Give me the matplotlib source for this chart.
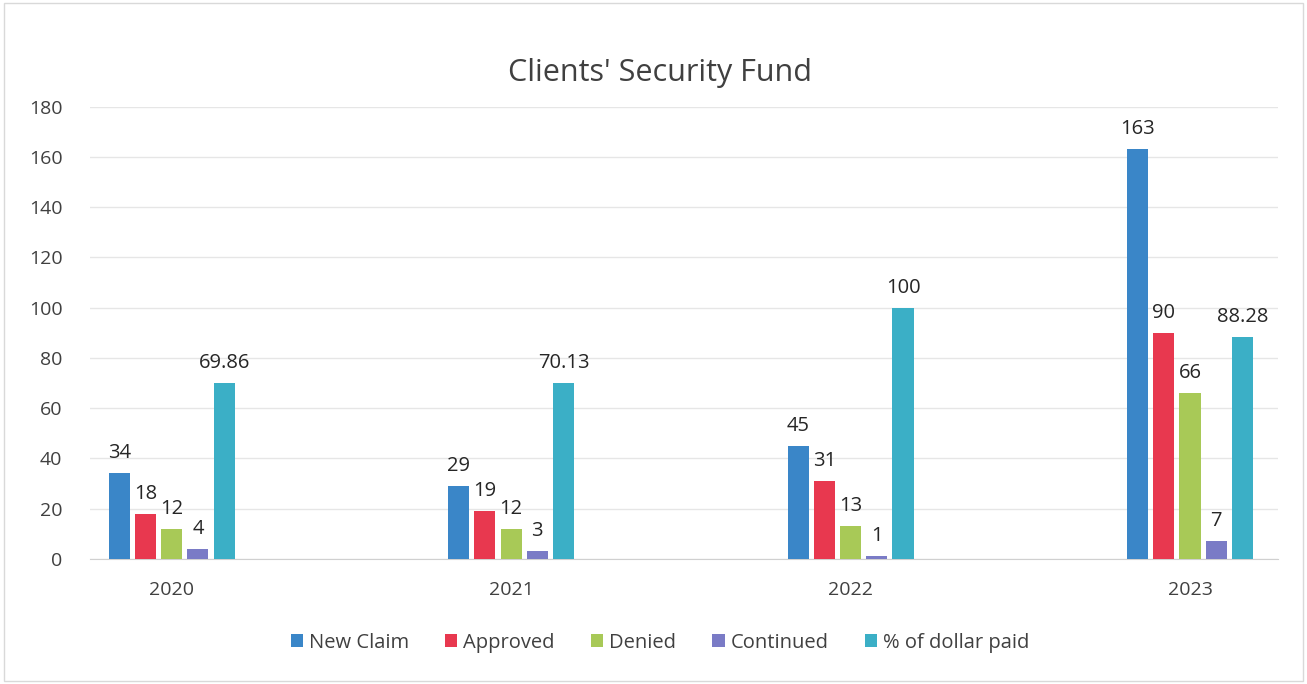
import matplotlib
matplotlib.use("Agg")
import matplotlib.pyplot as plt
import numpy as np

years = ["2020", "2021", "2022", "2023"]
series_names = ["New Claim", "Approved", "Denied", "Continued", "% of dollar paid"]
new_claim = [34, 29, 45, 163]
approved = [18, 19, 31, 90]
denied = [12, 12, 13, 66]
continued = [4, 3, 1, 7]
pct_paid = [69.86, 70.13, 100, 88.28]
pct_labels = ["69.86", "70.13", "100", "88.28"]
colors = ["#3A86C8", "#E8384F", "#A8C957", "#7A7BC6", "#3BAFC6"]
y_ticks = [0, 20, 40, 60, 80, 100, 120, 140, 160, 180]

plt.rcParams['font.family'] = ['Open Sans', 'DejaVu Sans']

fig = plt.figure(figsize=(13.07, 6.84), dpi=100)
ax = fig.add_axes([0.069, 0.183, 0.909, 0.661])

x = np.arange(len(years))
pitch = 0.0773
width = 0.062
all_series = [new_claim, approved, denied, continued, pct_paid]
for i, (vals, c, name) in enumerate(zip(all_series, colors, series_names)):
    pos = x + (i - 2) * pitch
    ax.bar(pos, vals, width=width, color=c, label=name, zorder=3)
    for j, (p, v) in enumerate(zip(pos, vals)):
        lab = pct_labels[j] if i == 4 else str(v)
        ax.text(p, v + 4, lab, ha="center", va="bottom", fontsize=14.5, color="#262626")

ax.set_xlim(-0.24, 3.26)
ax.set_ylim(0, 180)
ax.set_yticks(y_ticks)
ax.set_xticks(x)
ax.set_xticklabels(years)
ax.tick_params(axis="both", length=0, labelsize=14, colors="#404040")
ax.tick_params(axis="y", pad=20)
ax.tick_params(axis="x", pad=16)
ax.grid(axis="y", color="#E6E6E6", linewidth=1, zorder=0)
for s in ["top", "right", "left"]:
    ax.spines[s].set_visible(False)
ax.spines["bottom"].set_color("#D0D0D0")

fig.text(0.505, 0.893, "Clients' Security Fund", ha="center", va="center", fontsize=22, color="#404040")

leg = fig.legend(loc="center", bbox_to_anchor=(0.505, 0.06), ncol=5, frameon=False,
                 fontsize=14.5, handlelength=0.6, handleheight=0.6, handletextpad=0.3,
                 columnspacing=1.8, labelcolor="#404040")

fig.patches.append(matplotlib.patches.Rectangle((0.003, 0.005), 0.994, 0.99, transform=fig.transFigure,
                                                fill=False, edgecolor="#D9D9D9", linewidth=1))

fig.savefig("out.png", dpi=100)
